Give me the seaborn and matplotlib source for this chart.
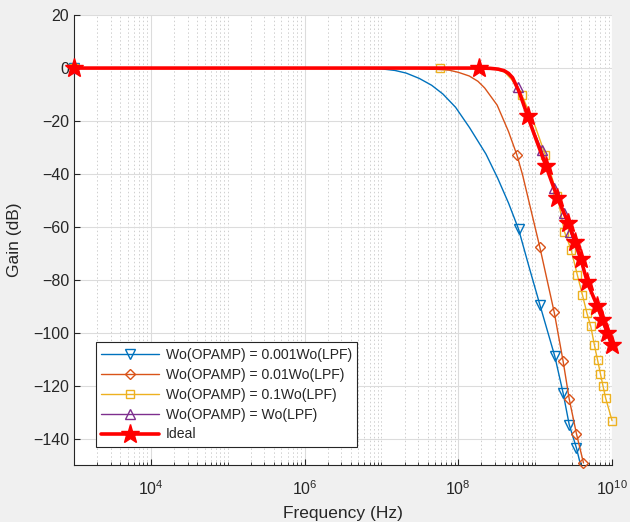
import numpy as np
import pandas as pd
import matplotlib
matplotlib.use("Agg")
import matplotlib.pyplot as plt
import matplotlib.ticker as mticker
import seaborn as sns

# ---------------- data ----------------
blue_freq = [1e3, 1e6, 5e6, 1e7, 1.5e7, 2.1e7, 3.1e7, 4.5e7, 6.3e7, 9.2e7,
             1.4e8, 2.29e8, 3.24e8, 4.5e8, 6.07e8, 8.3e8,
             1.15e9, 1.8e9, 2.31e9, 2.77e9, 3.44e9, 3.9e9]
blue_gain = [0, 0, -0.05, -0.3, -0.9, -1.9, -3.9, -6.5, -9.8, -14.8,
             -22.5, -32.5, -41.5, -51, -60.8, -75,
             -89.4, -108.9, -122.8, -134.7, -143.5, -150]
blue_marks = [0, 14, 16, 17, 18, 19, 20]

orange_freq = [1e3, 1e6, 3e7, 7.6e7, 1.0e8, 1.39e8, 1.8e8, 2.2e8, 3.2e8, 4.5e8,
               5.78e8, 6.86e8, 1.15e9, 1.77e9, 2.31e9, 2.77e9, 3.44e9, 4.25e9]
orange_gain = [0, 0, -0.1, -0.8, -1.6, -3, -5, -7.5, -14, -24,
               -32.8, -40.4, -67.7, -92.3, -110.8, -125, -138.1, -149.2]
orange_marks = [0, 10, 12, 13, 14, 15, 16, 17]

yellow_freq = [1e3, 5.78e7, 2e8, 3e8, 4e8, 5e8, 6.7e8, 1e9, 1.36e9, 1.95e9,
               2.4e9, 2.94e9, 3.53e9, 4.12e9, 4.71e9, 5.29e9, 5.88e9, 6.47e9,
               7.06e9, 7.65e9, 8.24e9, 1e10]
yellow_gain = [0, 0, 0, -0.4, -1.5, -4.5, -10.2, -22, -33, -48.5,
               -61.8, -68.7, -78.1, -85.7, -92.6, -97.6, -104.5, -110.2,
               -115.5, -120.3, -124.6, -133.2]
yellow_marks = [0, 1, 6, 8, 9, 10, 11, 12, 13, 14, 15, 16, 17, 18, 19, 20, 21]

purple_freq = [1e3, 1e8, 3e8, 4e8, 5e8, 5.9e8, 8e8, 1.22e9, 1.77e9, 2.38e9,
               2.88e9, 4e9, 6e9, 1e10]
purple_gain = [0, 0, -0.3, -1.2, -3.6, -7, -18.5, -31, -45.4, -54.8,
               -62, -74, -88, -106]
purple_marks = [0, 5, 7, 8, 9, 10]

ideal_freq = [1e3, 1e6, 1.84e8, 2.6e8, 3.3e8, 3.95e8, 4.5e8, 5.07e8, 6.2e8,
              7.95e8, 1.0e9, 1.38e9, 1.95e9, 2.69e9, 3.31e9, 3.92e9, 4.77e9,
              6.44e9, 7.48e9, 8.69e9, 9.9e9]
ideal_gain = [0, 0, 0, -0.1, -0.4, -1.0, -2.0, -3.6, -9,
              -18, -26, -37, -49, -58.5, -65.7, -72, -81,
              -90, -95, -100, -104.5]
ideal_marks = [0, 2, 9, 11, 12, 13, 14, 15, 16, 17, 18, 19, 20]

labels = ["Wo(OPAMP) = 0.001Wo(LPF)", "Wo(OPAMP) = 0.01Wo(LPF)",
          "Wo(OPAMP) = 0.1Wo(LPF)", "Wo(OPAMP) = Wo(LPF)", "Ideal"]

x_ticks = [1e4, 1e6, 1e8, 1e10]
y_ticks = [-140, -120, -100, -80, -60, -40, -20, 0, 20]

# ---------------- style ----------------
sns.set_theme(style="white")
plt.rcParams["font.family"] = ["Liberation Sans", "DejaVu Sans"]
plt.rcParams["mathtext.fontset"] = "custom"
plt.rcParams["mathtext.rm"] = "Liberation Sans"
plt.rcParams["mathtext.it"] = "Liberation Sans:italic"
plt.rcParams["mathtext.bf"] = "Liberation Sans:bold"

fig = plt.figure(figsize=(6.3, 5.22), dpi=100, facecolor="#f0f0f0")
ax = fig.add_axes([0.1175, 0.109, 0.854, 0.862])
ax.set_facecolor("white")

series = [
    (blue_freq, blue_gain, blue_marks, "#0072BD", "v", labels[0]),
    (orange_freq, orange_gain, orange_marks, "#D95319", "D", labels[1]),
    (yellow_freq, yellow_gain, yellow_marks, "#EDB120", "s", labels[2]),
    (purple_freq, purple_gain, purple_marks, "#7E2F8E", "^", labels[3]),
]
msizes = {"v": 7.5, "D": 5.5, "s": 5.5, "^": 7}
for i, (fx, gy, mk, col, m, lab) in enumerate(series):
    df = pd.DataFrame({"f": fx, "g": gy})
    sns.lineplot(data=df, x="f", y="g", ax=ax, color=col, lw=1.0,
                 marker=m, markevery=mk, ms=msizes[m], mfc="none", mec=col,
                 mew=1.0, label=lab, estimator=None, sort=False, zorder=3 + i,
                 clip_on=False)

df = pd.DataFrame({"f": ideal_freq, "g": ideal_gain})
sns.lineplot(data=df, x="f", y="g", ax=ax, color="#ff0000", lw=2.6,
             marker="*", markevery=ideal_marks, ms=14, mfc="#ff0000",
             mec="#ff0000", mew=1, label=labels[4], estimator=None,
             sort=False, zorder=10, clip_on=False)

ax.set_xscale("log")
ax.set_xlim(1e3, 1e10)
ax.set_ylim(-150, 20)
ax.xaxis.set_major_locator(mticker.FixedLocator(x_ticks))
ax.xaxis.set_minor_locator(mticker.LogLocator(base=10, subs=np.arange(1, 10), numticks=50))
ax.xaxis.set_minor_formatter(mticker.NullFormatter())
ax.set_yticks(y_ticks)

ax.grid(which="major", axis="both", color="#dcdcdc", lw=0.8, ls="-")
ax.grid(which="minor", axis="x", color="#cfcfcf", lw=0.7, ls=(0, (1.5, 2.5)))
ax.set_axisbelow(True)

for s in ["top", "right"]:
    ax.spines[s].set_visible(False)
for s in ["left", "bottom"]:
    ax.spines[s].set_color("#262626")
    ax.spines[s].set_linewidth(0.8)

ax.tick_params(axis="both", which="both", direction="in", colors="#262626",
               labelsize=11.5, left=True, bottom=True)
ax.tick_params(which="major", length=4, width=0.8)
ax.tick_params(which="minor", length=2.5, width=0.6)
ax.tick_params(axis="x", pad=10)

ax.set_xlabel("Frequency (Hz)", fontsize=12.5, color="#262626", labelpad=6)
ax.set_ylabel("Gain (dB)", fontsize=12.5, color="#262626", labelpad=8)

leg = ax.legend(loc="lower left", bbox_to_anchor=(0.04, 0.04), borderaxespad=0,
                fontsize=10.1, frameon=True, fancybox=False, edgecolor="#262626",
                framealpha=1, handlelength=4.1, handletextpad=0.5,
                borderpad=0.4, labelspacing=0.42)
leg.get_frame().set_linewidth(0.8)
leg.set_zorder(20)

fig.savefig("out.png", dpi=100, facecolor=fig.get_facecolor())
